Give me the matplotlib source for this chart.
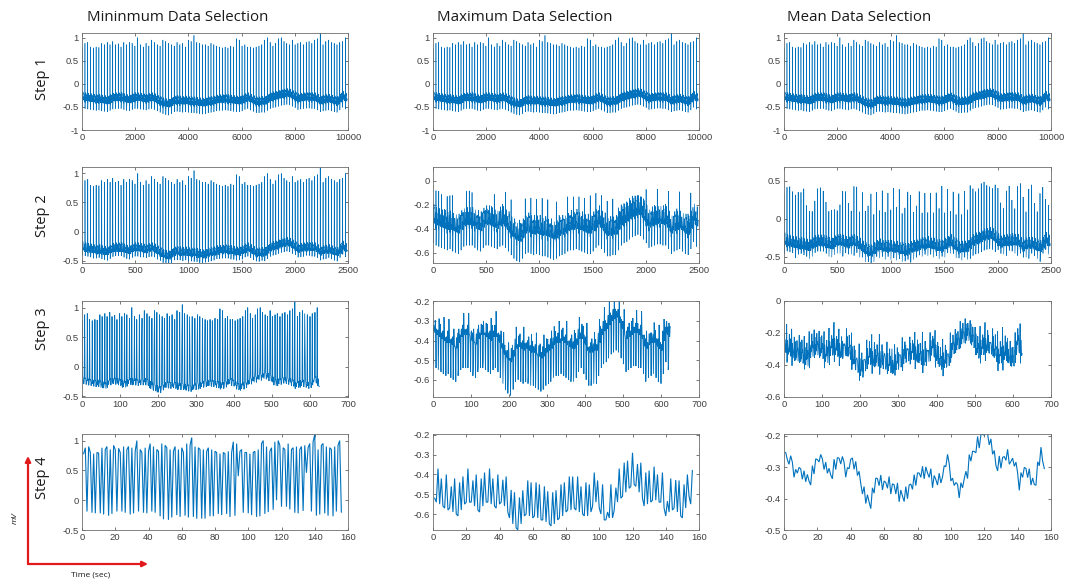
import numpy as np
import matplotlib
matplotlib.use("Agg")
import matplotlib.pyplot as plt
from matplotlib.patches import FancyArrowPatch
from matplotlib.ticker import FuncFormatter

# ---------------- data ----------------
col_titles = ["Mininmum Data Selection", "Maximum Data Selection", "Mean Data Selection"]
row_labels = ["Step 1", "Step 2", "Step 3", "Step 4"]

# sample index of every heart beat (R peak) in the 10000-sample record
beat_pos = [1, 110, 214, 318, 425, 530, 634, 738, 843, 948,
            1052, 1155, 1258, 1362, 1466, 1571, 1676, 1780, 1884, 1988,
            2092, 2197, 2302, 2407, 2512, 2617, 2722, 2828, 2934, 3040,
            3147, 3253, 3360, 3466, 3572, 3678, 3784, 3890, 3996, 4102,
            4208, 4314, 4420, 4527, 4634, 4741, 4848, 4955, 5062, 5168,
            5274, 5380, 5486, 5592, 5698, 5804, 5910, 6016, 6122, 6228,
            6334, 6440, 6546, 6652, 6758, 6864, 6969, 7073, 7177, 7281,
            7385, 7489, 7593, 7697, 7801, 7905, 8010, 8115, 8220, 8325,
            8430, 8535, 8640, 8745, 8850, 8955, 9060, 9165, 9270, 9375,
            9480, 9585, 9690, 9795, 9900]

# R-peak height (mV) of every beat
r_peak = [0.78, 0.88, 0.90, 0.80, 0.78, 0.80, 0.79, 0.88, 0.85, 0.90,
          0.85, 0.92, 0.85, 0.87, 0.80, 0.90, 0.85, 0.90, 0.88, 0.82,
          1.00, 0.85, 0.80, 0.88, 0.82, 0.95, 0.90, 0.85, 0.82, 0.95,
          0.92, 0.88, 0.85, 0.82, 0.90, 0.85, 0.88, 0.80, 0.95, 0.92,
          1.05, 0.90, 0.88, 0.85, 0.85, 0.82, 0.88, 0.85, 0.82, 0.80,
          0.78, 0.80, 0.78, 0.82, 0.80, 0.98, 0.95, 0.82, 0.85, 0.80,
          0.80, 0.78, 0.80, 0.82, 0.85, 0.95, 1.00, 0.90, 0.82, 0.88,
          0.98, 1.00, 0.92, 0.88, 0.85, 0.95, 0.85, 0.88, 0.90, 0.85,
          0.90, 0.92, 0.88, 0.95, 0.98, 1.10, 0.85, 0.92, 0.95, 0.90,
          0.88, 0.85, 0.90, 0.92, 1.00]

# isoelectric baseline level (mV) under every beat
baseline = [-0.30, -0.32, -0.33, -0.34, -0.35, -0.36, -0.35, -0.37, -0.38, -0.39,
            -0.36, -0.33, -0.32, -0.32, -0.32, -0.34, -0.36, -0.37, -0.34, -0.32,
            -0.32, -0.33, -0.34, -0.35, -0.33, -0.32, -0.34, -0.37, -0.40, -0.43,
            -0.45, -0.46, -0.43, -0.39, -0.38, -0.39, -0.40, -0.39, -0.40, -0.41,
            -0.41, -0.42, -0.43, -0.44, -0.43, -0.41, -0.40, -0.39, -0.37, -0.36,
            -0.36, -0.35, -0.36, -0.37, -0.38, -0.39, -0.39, -0.37, -0.34, -0.32,
            -0.35, -0.38, -0.41, -0.41, -0.40, -0.40, -0.36, -0.32, -0.30, -0.29,
            -0.27, -0.25, -0.24, -0.23, -0.24, -0.27, -0.30, -0.34, -0.33, -0.32,
            -0.31, -0.31, -0.32, -0.32, -0.35, -0.39, -0.37, -0.36, -0.35, -0.37,
            -0.39, -0.40, -0.35, -0.29, -0.33]

# shape of one beat outside the QRS spike (offset in samples from R, mV above baseline)
wave_off = [-45, -40, -35, -30, -26, -22, -18, -14, -10, -6, -4, -3,
            3, 4, 6, 9, 14, 18, 22, 26, 30, 34, 38, 42, 46, 50, 55, 60]
wave_val = [-0.03, 0.03, -0.04, 0.04, 0.09, 0.05, 0.10, 0.00, 0.03, -0.03, -0.08, -0.05,
            -0.22, -0.18, -0.11, -0.10, 0.01, -0.02, 0.06, 0.10, 0.13, 0.07, 0.11, 0.02,
            -0.04, 0.02, -0.05, 0.00]
# QRS spike: offsets from R and fraction of the R amplitude
qrs_off = [-2, -1, 0, 1, 2]
qrs_frac = [0.20, 0.65, 1.00, 0.60, 0.10]

n_samples = 10000
pool_size = 4
x_limits = [10000, 2500, 700, 160]
x_steps = [2000, 500, 100, 20]
y_limits = [[(-1.0, 1.1), (-1.0, 1.1), (-1.0, 1.1)],
            [(-0.54, 1.11), (-0.687, 0.117), (-0.58, 0.68)],
            [(-0.51, 1.11), (-0.688, -0.198), (-0.6, 0.0)],
            [(-0.5, 1.11), (-0.681, -0.195), (-0.5, -0.195)]]
y_ticks = [[[-1, -0.5, 0, 0.5, 1]] * 3,
           [[-0.5, 0, 0.5, 1], [-0.6, -0.4, -0.2, 0], [-0.5, 0, 0.5]],
           [[-0.5, 0, 0.5, 1], [-0.6, -0.5, -0.4, -0.3, -0.2], [-0.6, -0.4, -0.2, 0]],
           [[-0.5, 0, 0.5, 1], [-0.6, -0.5, -0.4, -0.3, -0.2], [-0.5, -0.4, -0.3, -0.2]]]

# ---------------- build the record from the beat table ----------------
sig = np.zeros(n_samples)
nb = len(beat_pos)
for i in range(nb):
    start = 0 if i == 0 else beat_pos[i] - 45
    stop = n_samples if i == nb - 1 else beat_pos[i + 1] - 45
    idx = np.arange(start, stop)
    sig[start:stop] = baseline[i] + np.interp(idx - beat_pos[i], wave_off, wave_val)
for i in range(nb):
    amp = r_peak[i] - baseline[i]
    for o, f in zip(qrs_off, qrs_frac):
        k = beat_pos[i] + o
        if 0 <= k < n_samples:
            sig[k] = baseline[i] + f * amp


def pool(x, k, fn):
    n = len(x) // k
    return fn(x[:n * k].reshape(n, k), axis=1)


pool_fns = [np.max, np.min, np.mean]
series = [[] for _ in range(4)]  # series[row][col]
for c in range(3):
    cur = sig
    series[0].append(cur)
    for r in range(1, 4):
        cur = pool(cur, pool_size, pool_fns[c])
        series[r].append(cur)

# ---------------- figure ----------------
plt.rcParams["axes.unicode_minus"] = False
W, H = 1068, 584
fig = plt.figure(figsize=(W / 100, H / 100), dpi=100)
fig.patch.set_facecolor("white")

col_px = [(82, 348), (433, 699), (784, 1051)]
row_px = [(33, 130), (167, 263), (301, 397), (434, 530)]
line_color = "#0072BD"
tick_color = "#404040"
fmt = FuncFormatter(lambda v, p: "%g" % round(v, 4))

for r in range(4):
    for c in range(3):
        x0, x1 = col_px[c]
        y0, y1 = row_px[r]
        ax = fig.add_axes([x0 / W, 1 - y1 / H, (x1 - x0) / W, (y1 - y0) / H])
        y = series[r][c]
        xs = np.arange(1, len(y) + 1)
        lw = [0.4, 0.45, 0.6, 0.8][r]
        ax.plot(xs, y, color=line_color, lw=lw, solid_joinstyle="miter")
        ax.set_xlim(0, x_limits[r])
        ax.set_xticks(np.arange(0, x_limits[r] + 1, x_steps[r]))
        ax.set_ylim(*y_limits[r][c])
        ax.set_yticks(y_ticks[r][c])
        ax.xaxis.set_major_formatter(fmt)
        ax.yaxis.set_major_formatter(fmt)
        ax.tick_params(direction="in", length=2.2, width=0.5, top=True, right=True,
                       labelsize=6.8, colors=tick_color, pad=2.5)
        for s in ax.spines.values():
            s.set_color("#6e6e6e")
            s.set_linewidth(0.6)
        for lab in ax.get_xticklabels() + ax.get_yticklabels():
            lab.set_family(["Liberation Sans", "DejaVu Sans"])

title_x = [87, 437, 787]
for c in range(3):
    fig.text(title_x[c] / W, 1 - 21 / H, col_titles[c], fontsize=10.8,
             family=["Open Sans", "DejaVu Sans"], color="#1a1a1a", ha="left", va="baseline")

row_y = [79, 216, 329, 478]
for r in range(4):
    fig.text(42.5 / W, 1 - row_y[r] / H, row_labels[r], rotation=90, fontsize=10.5,
             family=["Open Sans", "DejaVu Sans"], color="#1a1a1a", ha="center", va="center")

# red axis arrows (mV / time)
corner = (28 / W, 1 - 564 / H)
arr_v = FancyArrowPatch(corner, (28 / W, 1 - 456 / H), transform=fig.transFigure,
                        arrowstyle="-|>", mutation_scale=8, color="#e31a1c", lw=1.6,
                        shrinkA=0, shrinkB=0)
arr_h = FancyArrowPatch(corner, (148 / W, 1 - 564 / H), transform=fig.transFigure,
                        arrowstyle="-|>", mutation_scale=8, color="#e31a1c", lw=1.6,
                        shrinkA=0, shrinkB=0)
fig.patches.extend([arr_v, arr_h])
fig.text(15 / W, 1 - 518 / H, "mV", rotation=90, fontsize=6, style="italic",
         family=["Open Sans", "DejaVu Sans"], ha="center", va="center", color="#1a1a1a")
fig.text(90.5 / W, 1 - 575 / H, "Time (sec)", fontsize=6,
         family=["Open Sans", "DejaVu Sans"], ha="center", va="center", color="#1a1a1a")

fig.savefig("out.png", dpi=100, facecolor="white")
